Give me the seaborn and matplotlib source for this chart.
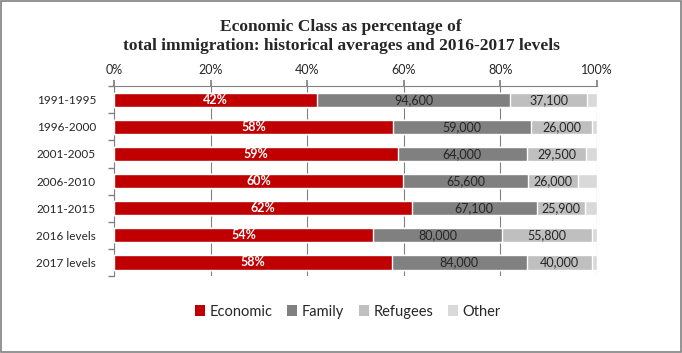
import seaborn as sns
import matplotlib.pyplot as plt
import pandas as pd
from matplotlib.patches import Rectangle, Patch

periods = ["1991-1995", "1996-2000", "2001-2005", "2006-2010", "2011-2015", "2016 levels", "2017 levels"]
economic = [42.0, 57.8, 58.7, 59.9, 61.6, 53.7, 57.5]
family = [40.0, 28.5, 26.8, 25.8, 26.0, 26.6, 28.0]
refugees = [15.9, 12.7, 12.3, 10.3, 10.0, 18.7, 13.5]
other = [2.1, 1.0, 2.2, 4.0, 2.4, 1.0, 1.0]
econ_labels = ["42%", "58%", "59%", "60%", "62%", "54%", "58%"]
family_labels = ["94,600", "59,000", "64,000", "65,600", "67,100", "80,000", "84,000"]
refugee_labels = ["37,100", "26,000", "29,500", "26,000", "25,900", "55,800", "40,000"]

series = ["Economic", "Family", "Refugees", "Other"]
colors = {"Economic": "#C00000", "Family": "#808080", "Refugees": "#BFBFBF", "Other": "#D9D9D9"}

df = pd.DataFrame({"period": periods, "Economic": economic, "Family": family,
                   "Refugees": refugees, "Other": other})
cum = df[series].cumsum(axis=1)
cum["period"] = periods

sns.set_theme(style="white")
plt.rcParams["font.family"] = ["Lato", "DejaVu Sans"]

fig = plt.figure(figsize=(6.82, 3.53), dpi=100)
ax = fig.add_axes([0.1672, 0.218, 0.7082, 0.538])

# stacked bars: draw cumulative totals from the widest down
for s in reversed(series):
    sns.barplot(data=cum, x=s, y="period", order=periods, color=colors[s],
                width=0.52, saturation=1, ax=ax, zorder=3)

for i in range(len(periods)):
    left = 0
    for s, labs, col, w in [("Economic", econ_labels, "white", "bold"),
                            ("Family", family_labels, "#262626", "normal"),
                            ("Refugees", refugee_labels, "#262626", "normal")]:
        v = df[s][i]
        ax.text(left + v / 2, i, labs[i], ha="center", va="center",
                color=col, fontsize=9, fontweight=w, zorder=4)
        left += v

ax.set_xlim(0, 100)
ax.set_ylim(len(periods) - 0.5, -0.5)
ax.set_xticks(range(0, 101, 20))
ax.set_xticklabels([f"{t}%" for t in range(0, 101, 20)])
ax.xaxis.tick_top()
ax.tick_params(axis="x", which="both", top=True, length=4, color="#808080",
               labelsize=9, pad=3, labelcolor="#262626")
ax.tick_params(axis="y", left=False, labelsize=8.5, pad=7, labelcolor="#262626")
ax.set_yticks(range(len(periods)), minor=False)
ax.set_yticks([i + 0.5 for i in range(-1, len(periods))], minor=True)
ax.tick_params(axis="y", which="minor", left=True, length=4, color="#808080")
ax.grid(axis="x", color="#808080", linewidth=0.8, zorder=0)
ax.set_xlabel("")
ax.set_ylabel("")
for side in ["right", "bottom"]:
    ax.spines[side].set_visible(False)
for side in ["top", "left"]:
    ax.spines[side].set_color("#808080")
    ax.spines[side].set_linewidth(0.8)

handles = [Patch(facecolor=colors[s], edgecolor="none") for s in series]
fig.legend(handles, series, loc="center", bbox_to_anchor=(0.51, 0.117), ncol=4,
           frameon=False, fontsize=10.5, handlelength=0.7, handleheight=0.7,
           handletextpad=0.3, columnspacing=1.0)

fig.text(0.5, 0.945, "Economic Class as percentage of\ntotal immigration: historical averages and 2016-2017 levels",
         ha="center", va="top", fontsize=12.5, family="Liberation Serif",
         fontweight="bold", linespacing=1.2)

fig.patches.append(Rectangle((0.0015, 0.003), 0.997, 0.994, transform=fig.transFigure,
                             fill=False, edgecolor="#808080", linewidth=1.2))

fig.savefig("out.png", dpi=100)
